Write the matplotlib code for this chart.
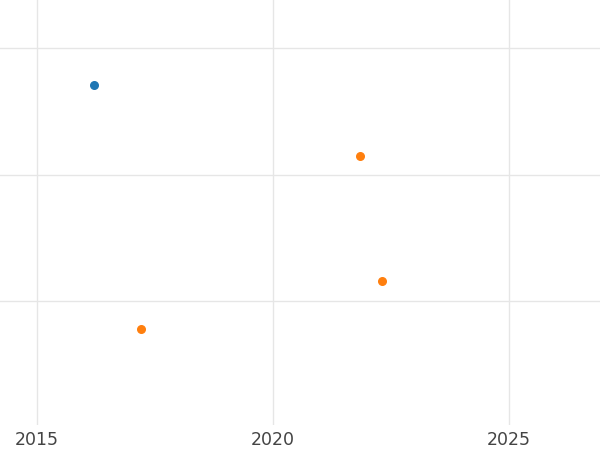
import matplotlib
matplotlib.use('Agg')
import matplotlib.pyplot as plt

blue_x = [2016.21]
blue_y = [2.71]
orange_x = [2021.84, 2022.31, 2017.20]
orange_y = [2.15, 1.16, 0.78]
xticks = [2015, 2020, 2025]

fig = plt.figure(figsize=(6, 4.5), dpi=100)
ax = fig.add_axes([0, 0.055, 1, 0.945])
ax.scatter(blue_x, blue_y, color='#1f77b4', s=30, zorder=3)
ax.scatter(orange_x, orange_y, color='#ff7f0e', s=30, zorder=3)
ax.set_xlim(2014.216, 2026.93)
ax.set_ylim(0.02, 3.38)
ax.set_xticks(xticks)
ax.set_yticks([1, 2, 3])
ax.set_yticklabels([])
ax.grid(True, color='#e6e6e6', linewidth=1)
ax.set_axisbelow(True)
for s in ax.spines.values():
    s.set_visible(False)
ax.tick_params(length=0, labelsize=12.5, colors='#444444', pad=4)
fig.savefig('out.png')
